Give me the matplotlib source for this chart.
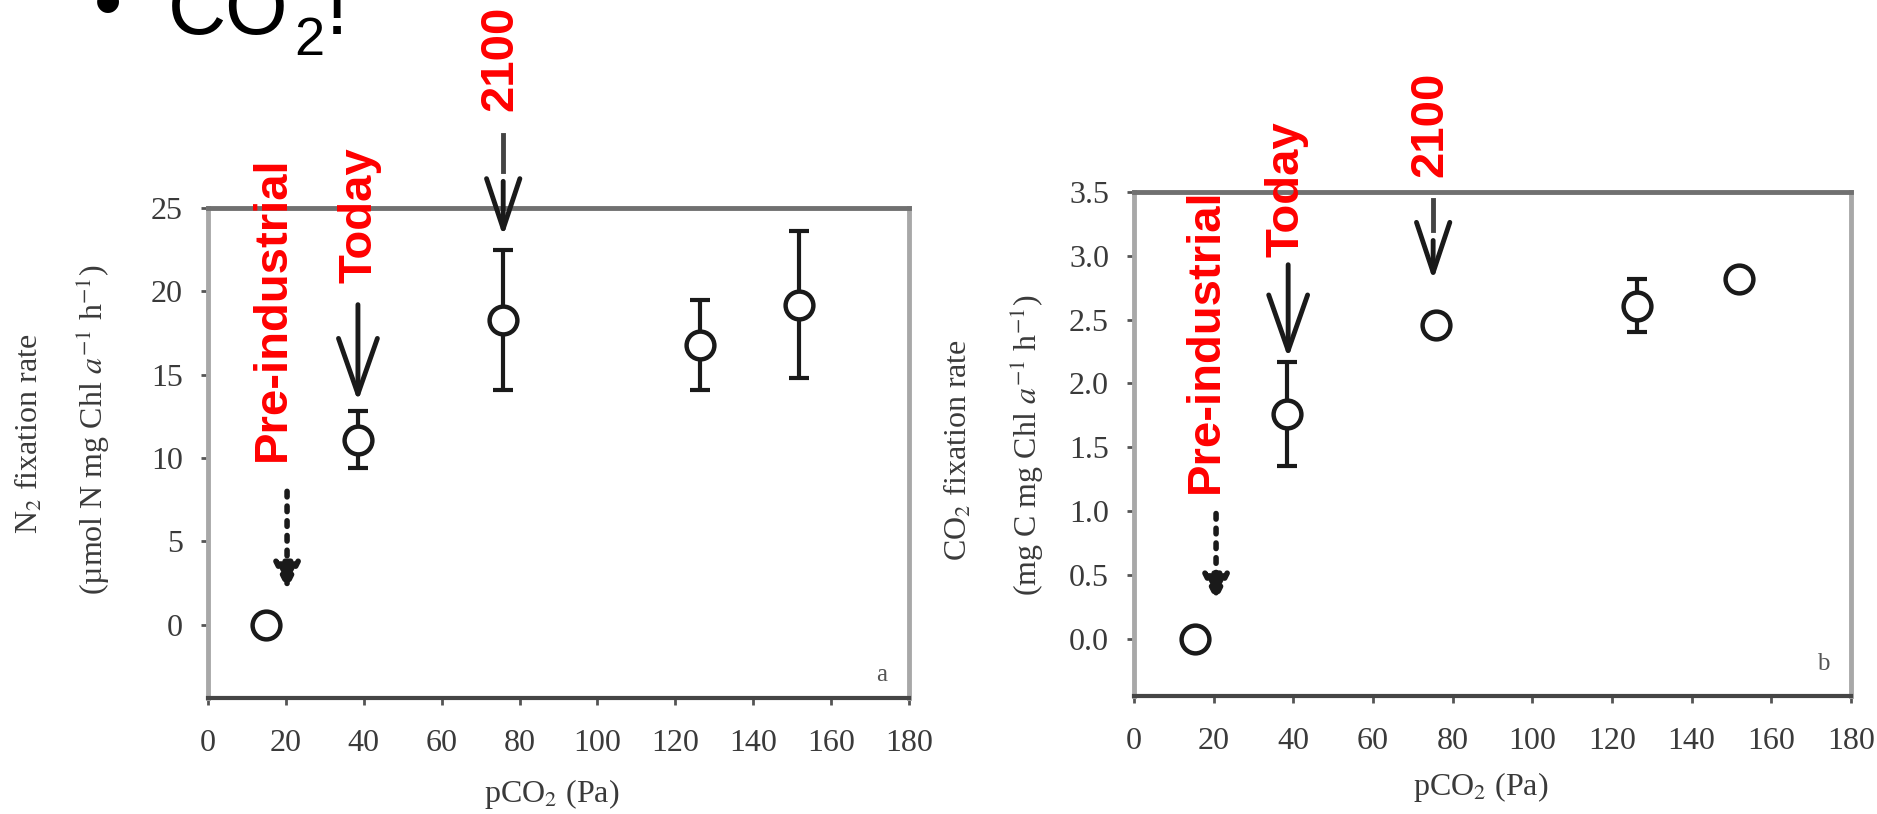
import matplotlib
matplotlib.use("Agg")
import matplotlib.pyplot as plt
from matplotlib.ticker import FormatStrFormatter

# panel a: N2 fixation rate vs pCO2
pco2_a = [15.0, 38.5, 75.8, 126.3, 151.7]
n2_rate = [0.0, 11.1, 18.3, 16.8, 19.2]
n2_err = [0.0, 1.7, 4.2, 2.7, 4.4]

# panel b: CO2 fixation rate vs pCO2
pco2_b = [15.4, 38.5, 75.7, 126.4, 151.9]
co2_rate = [0.0, 1.76, 2.46, 2.61, 2.82]
co2_err = [0.0, 0.41, 0.0, 0.21, 0.0]

x_ticks = [0, 20, 40, 60, 80, 100, 120, 140, 160, 180]
a_ticks = [0, 5, 10, 15, 20, 25]
b_ticks = [0.0, 0.5, 1.0, 1.5, 2.0, 2.5, 3.0, 3.5]

plt.rcParams['font.family'] = ['Liberation Serif', 'DejaVu Serif']
plt.rcParams['mathtext.fontset'] = 'stix'

W, H = 1877, 814
fig = plt.figure(figsize=(W / 100, H / 100), dpi=100)


def fx(px):
    return px / W


def fy(py):
    return 1 - py / H


def setup_axes(ax, yticks, ylim):
    ax.set_xlim(0, 180)
    ax.set_ylim(*ylim)
    ax.set_xticks(x_ticks)
    ax.set_yticks(yticks)
    ax.tick_params(direction='out', length=5, width=2, colors='#555555',
                   labelcolor='#3a3a3a', labelsize=23)
    ax.tick_params(axis='y', pad=13)
    ax.tick_params(axis='x', pad=17)
    for side in ['left', 'right']:
        ax.spines[side].set_color('#a8a8a8')
        ax.spines[side].set_linewidth(3.5)
    ax.spines['top'].set_color('#707070')
    ax.spines['top'].set_linewidth(3.5)
    ax.spines['bottom'].set_color('#454545')
    ax.spines['bottom'].set_linewidth(3)


def draw_points(ax, x, y, err):
    ax.errorbar(x, y, yerr=err, fmt='none', ecolor='#1a1a1a', elinewidth=3,
                capsize=7.5, capthick=3, zorder=2)
    ax.plot(x, y, 'o', ms=20, mfc='white', mec='#1a1a1a', mew=3.2, zorder=3)


def red_label(ax, x, y, s):
    ax.text(x, y, s, rotation=90, ha='center', va='bottom', color='#ff0000',
            fontsize=34, fontweight='bold', family='Liberation Sans', clip_on=False)


def arrow(ax, x, y0, y1, style='->', ls='-', lw=3.5, scale=40):
    ax.annotate('', xy=(x, y1), xytext=(x, y0),
                arrowprops=dict(arrowstyle=style, lw=lw, color='#1a1a1a', linestyle=ls,
                                mutation_scale=scale, shrinkA=0, shrinkB=0),
                annotation_clip=False)


# ---- panel a ----
ax1 = fig.add_axes([fx(208), fy(698), fx(909) - fx(208), fy(208) - fy(698)])
setup_axes(ax1, a_ticks, (-4.4, 25))
draw_points(ax1, pco2_a, n2_rate, n2_err)
ax1.text(173, -3.0, 'a', fontsize=18, color='#555555', ha='center', va='center')
red_label(ax1, 16.7, 9.8, 'Pre-industrial')
red_label(ax1, 39.0, 20.5, 'Today')
red_label(ax1, 75.0, 30.8, '2100')
arrow(ax1, 38.5, 19.2, 13.4, style='->,head_length=1.0,head_width=0.35')
ax1.plot([75.8, 75.8], [29.4, 27.2], color='#444444', lw=3.5, clip_on=False)
arrow(ax1, 75.8, 26.6, 23.3, style='->,head_length=0.9,head_width=0.3')
arrow(ax1, 20.3, 8.0, 2.1, style='-|>,head_length=0.4,head_width=0.2', ls=':', lw=4)

fig.text(fx(29), fy(434), 'N$_2$ fixation rate', rotation=90, ha='center', va='center',
         fontsize=23, color='#3a3a3a')
fig.text(fx(93), fy(430), '(µmol N mg Chl $a^{-1}$ h$^{-1}$)', rotation=90, ha='center',
         va='center', fontsize=23, color='#3a3a3a')
fig.text(fx(552), fy(794), 'pCO$_2$ (Pa)', ha='center', va='center', fontsize=23,
         color='#3a3a3a')

# ---- panel b ----
ax2 = fig.add_axes([fx(1134), fy(696), fx(1851) - fx(1134), fy(192) - fy(696)])
setup_axes(ax2, b_ticks, (-0.45, 3.5))
ax2.yaxis.set_major_formatter(FormatStrFormatter('%.1f'))
draw_points(ax2, pco2_b, co2_rate, co2_err)
ax2.text(173, -0.2, 'b', fontsize=18, color='#555555', ha='center', va='center')
red_label(ax2, 18.1, 1.14, 'Pre-industrial')
red_label(ax2, 38.4, 2.99, 'Today')
red_label(ax2, 74.3, 3.62, '2100')
arrow(ax2, 38.7, 2.93, 2.20, style='->,head_length=1.0,head_width=0.35')
ax2.plot([75.1, 75.1], [3.44, 3.20], color='#444444', lw=3.5, clip_on=False)
arrow(ax2, 75.1, 3.12, 2.81, style='->,head_length=0.9,head_width=0.3')
arrow(ax2, 20.6, 0.98, 0.29, style='-|>,head_length=0.4,head_width=0.2', ls=':', lw=4)

fig.text(fx(958), fy(450), 'CO$_2$ fixation rate', rotation=90, ha='center', va='center',
         fontsize=23, color='#3a3a3a')
fig.text(fx(1027), fy(445), '(mg C mg Chl $a^{-1}$ h$^{-1}$)', rotation=90, ha='center',
         va='center', fontsize=23, color='#3a3a3a')
fig.text(fx(1481), fy(787), 'pCO$_2$ (Pa)', ha='center', va='center', fontsize=23,
         color='#3a3a3a')

# slide bullet text at the top (cut by the top edge, as on the slide)
fig.text(fx(108), fy(8), '•', ha='center', va='center', fontsize=58,
         family='Liberation Sans', color='black')
fig.text(fx(168), fy(34), 'CO', ha='left', va='baseline', fontsize=58,
         family='Liberation Sans', color='black')
fig.text(fx(294), fy(55), '2', ha='left', va='baseline', fontsize=39,
         family='Liberation Sans', color='black')
fig.text(fx(326), fy(34), '!', ha='left', va='baseline', fontsize=58,
         family='Liberation Sans', color='black')

fig.savefig('out.png', dpi=100, facecolor='white')
